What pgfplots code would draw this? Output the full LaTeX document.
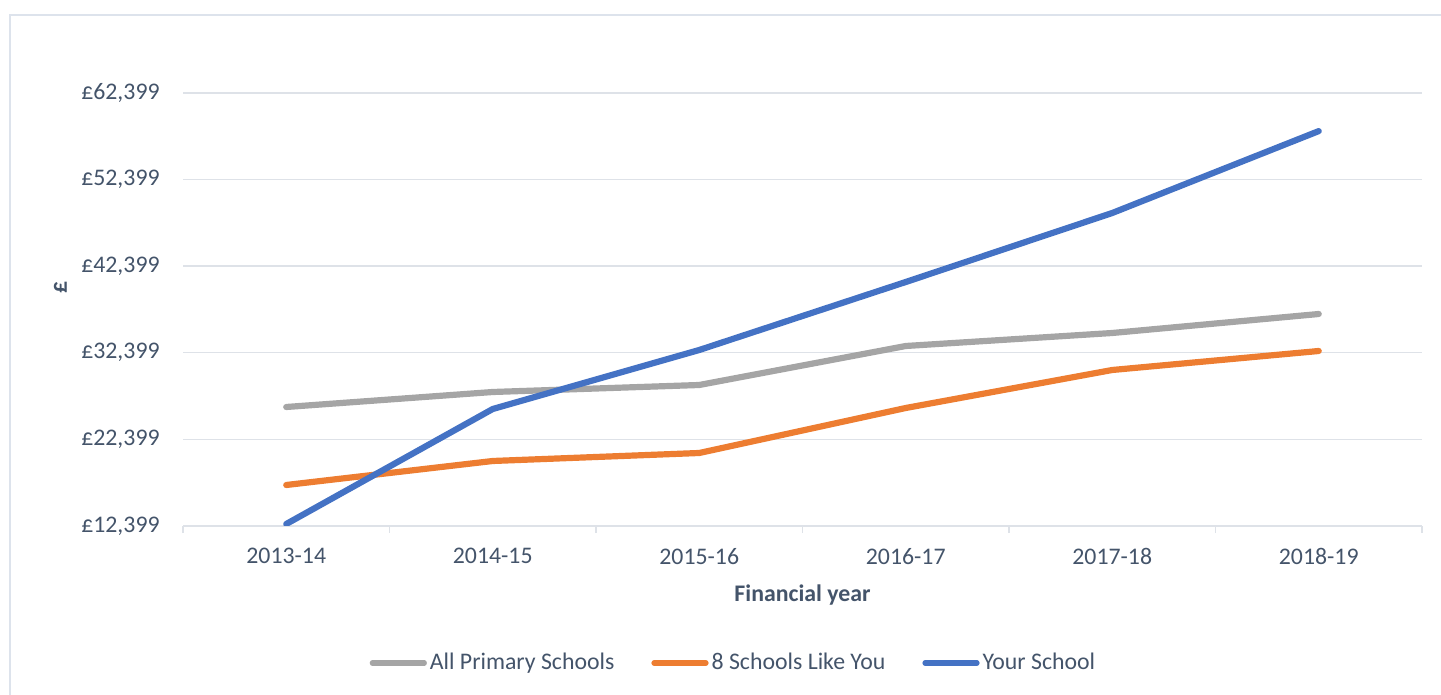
\documentclass[border=0pt]{standalone}
\usepackage{fontspec}
\setmainfont{Carlito}
\usepackage{pgfplots}
\pgfplotsset{compat=1.18}
\definecolor{cgray}{HTML}{A5A5A5}
\definecolor{corange}{HTML}{ED7D31}
\definecolor{cblue}{HTML}{4472C4}
\definecolor{ctext}{HTML}{44546A}
\definecolor{cgrid}{HTML}{DEE2E8}
\definecolor{cframe}{HTML}{DDE3EC}
\begin{document}
\begin{tikzpicture}
\useasboundingbox (0,0) rectangle (720.5pt,347.5pt);
\draw[cframe, line width=0.8pt] (5pt,-2pt) -- (5pt,340pt) -- (722pt,340pt);
\begin{axis}[
  at={(91.5pt,84.5pt)}, anchor=south west,
  scale only axis, width=619.5pt, height=238.15pt,
  xmin=-0.5, xmax=5.5, ymin=12399, ymax=67399,
  scaled y ticks=false,
  axis lines*=left,
  y axis line style={draw=none},
  x axis line style={cgrid, line width=0.7pt},
  xtick={0,1,2,3,4,5},
  xticklabels={\textnormal{2013-14},\textnormal{2014-15},\textnormal{2015-16},\textnormal{2016-17},\textnormal{2017-18},\textnormal{2018-19}},
  minor xtick={-0.5,0.5,1.5,2.5,3.5,4.5,5.5},
  major tick length=0pt,
  minor tick length=3.6pt,
  tick align=outside,
  minor tick style={cgrid, line width=0.7pt},
  ytick={12399,22399,32399,42399,52399,62399},
  yticklabels={{\textnormal{£12,399}},{\textnormal{£22,399}},{\textnormal{£32,399}},{\textnormal{£42,399}},{\textnormal{£52,399}},{\textnormal{£62,399}}},
  ymajorgrids, major grid style={cgrid, line width=0.7pt},
  tick label style={font=\fontsize{11.9}{14}\selectfont, text=ctext},
  yticklabel style={inner sep=0pt, xshift=-11.5pt},
  xticklabel style={inner sep=0pt, yshift=-11pt},
  xlabel={Financial year}, ylabel={£},
  label style={font=\bfseries\fontsize{11.9}{14}\selectfont, text=ctext},
  xlabel style={at={(axis description cs:0.5,-0.145)}, anchor=center},
  ylabel style={at={(axis description cs:-0.099,0.5)}, anchor=center, rotate=0},
  legend columns=3,
  legend style={at={(axis description cs:0.4447,-0.2876)}, anchor=center, draw=none, fill=none,
    font=\fontsize{11.9}{14}\selectfont, text=ctext,
    /tikz/every even column/.append style={column sep=17pt},
    nodes={inner sep=1.5pt}},
  legend image code/.code={\draw[#1, line width=2.6pt, line cap=round] (0pt,0pt) -- (26pt,0pt);},
  every axis plot/.append style={line width=3.1pt, line join=round, line cap=round, mark=none},
]
\addplot[cgray] coordinates {(0,26140) (1,27872) (2,28681) (3,33184) (4,34685) (5,36879)};
\addlegendentry{All Primary Schools}
\addplot[corange] coordinates {(0,17133) (1,19905) (2,20829) (3,26025) (4,30413) (5,32607)};
\addlegendentry{8 Schools Like You}
\addplot[cblue] coordinates {(0,12630) (1,25909) (2,32722) (3,40574) (4,48542) (5,57998)};
\addlegendentry{Your School}
\end{axis}
\end{tikzpicture}
\end{document}
